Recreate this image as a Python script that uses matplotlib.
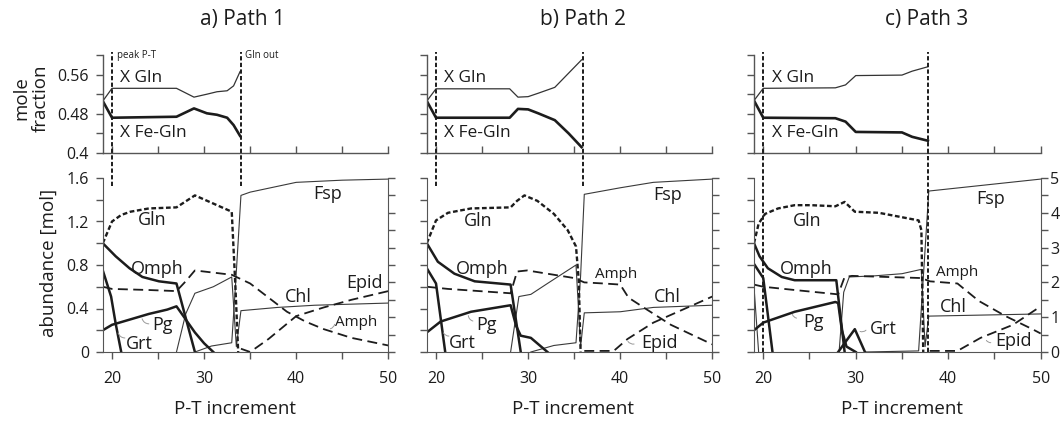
import numpy as np
import matplotlib.pyplot as plt
from matplotlib.ticker import FixedLocator, FuncFormatter

plt.rcParams['font.family'] = ['Open Sans', 'DejaVu Sans']

# ---- data ----
titles = ['a) Path 1', 'b) Path 2', 'c) Path 3']
peak_pt = [20, 20, 20]
gln_out = [34, 36, 37.8]

# Path 1
a_xgln_x = [19, 20, 27, 28.9, 30.3, 31.4, 32.5, 33.2, 33.9]
a_xgln_y = [0.506, 0.532, 0.532, 0.514, 0.520, 0.525, 0.527, 0.537, 0.566]
a_xfe_y = [0.506, 0.472, 0.474, 0.491, 0.481, 0.478, 0.472, 0.457, 0.435]
a_gln_x = [19, 19.5, 20, 21, 22, 24, 27, 29, 33, 33.4, 33.7]
a_gln_y = [1.0, 1.1, 1.2, 1.26, 1.29, 1.32, 1.33, 1.44, 1.29, 0.6, 0]
a_omph_x = [19, 20.4, 21.9, 23.3, 25.1, 27, 29]
a_omph_y = [1.0, 0.88, 0.77, 0.69, 0.65, 0.63, 0]
a_grt_x = [19, 19.9, 20.4, 21]
a_grt_y = [0.75, 0.51, 0.26, 0]
a_pg_x = [19, 20, 22, 24, 26, 27, 28, 29, 30, 31]
a_pg_y = [0.2, 0.25, 0.3, 0.35, 0.39, 0.42, 0.3, 0.18, 0.08, 0]
a_amph_x = [19, 20, 24, 27, 28, 29, 33, 34, 35, 37, 39, 41, 43, 46, 50]
a_amph_y = [0.6, 0.58, 0.57, 0.56, 0.65, 0.75, 0.71, 0.67, 0.63, 0.5, 0.37, 0.28, 0.21, 0.13, 0.06]
a_chl_x = [27, 28, 29, 31, 33, 33.5, 34, 38, 42, 46, 50]
a_chl_y = [0, 0.35, 0.54, 0.6, 0.69, 0.05, 0.38, 0.41, 0.43, 0.44, 0.45]
a_fsp_x = [29, 30.8, 33, 33.4, 34, 35, 40, 45, 50]
a_fsp_y = [0, 0.055, 0.085, 0.6, 1.44, 1.47, 1.56, 1.58, 1.59]
a_epid_x = [34, 35, 37, 40, 43, 46, 50]
a_epid_y = [0.03, 0, 0.12, 0.33, 0.41, 0.48, 0.56]

# Path 2
b_xgln_x = [19, 20, 28, 28.9, 30, 31.1, 32.9, 34.4, 35.8]
b_xgln_y = [0.506, 0.531, 0.531, 0.514, 0.515, 0.522, 0.534, 0.563, 0.59]
b_xfe_y = [0.506, 0.472, 0.472, 0.49, 0.489, 0.481, 0.467, 0.44, 0.412]
b_gln_x = [19, 20, 21.3, 23.8, 28.1, 28.8, 29.6, 31, 32.8, 34.3, 35.2, 35.5, 35.7]
b_gln_y = [1.0, 1.21, 1.28, 1.32, 1.33, 1.39, 1.44, 1.39, 1.27, 1.12, 0.97, 0.66, 0]
b_omph_x = [19, 20.2, 22, 24.2, 28.1, 29.2]
b_omph_y = [1.0, 0.83, 0.72, 0.65, 0.62, 0]
b_grt_x = [19, 20, 21]
b_grt_y = [0.77, 0.63, 0]
b_pg_x = [19, 20.5, 23.8, 28.1, 28.7, 29.2, 30.3, 32.1]
b_pg_y = [0.18, 0.28, 0.37, 0.43, 0.24, 0.15, 0.13, 0]
b_amph_x = [19, 21.3, 28.1, 28.8, 29.9, 35, 36.1, 38.2, 40, 40.9, 42.9, 45.5, 50]
b_amph_y = [0.6, 0.58, 0.54, 0.74, 0.75, 0.68, 0.64, 0.63, 0.62, 0.5, 0.39, 0.25, 0.07]
b_chl_x = [28.1, 29, 30.3, 32.1, 35.2, 35.7, 36.1, 40, 43.6, 50]
b_chl_y = [0, 0.51, 0.53, 0.63, 0.8, 0.05, 0.36, 0.37, 0.41, 0.43]
b_fsp_x = [30.3, 32.8, 35.2, 35.7, 36.1, 40, 43.6, 50]
b_fsp_y = [0, 0.06, 0.085, 0.7, 1.45, 1.51, 1.56, 1.59]
b_epid_x = [36.1, 39.3, 40.8, 43.6, 50]
b_epid_y = [0.01, 0.01, 0.12, 0.27, 0.51]

# Path 3
c_xgln_x = [19, 20, 27.8, 28.9, 30, 35, 36.1, 37.8]
c_xgln_y = [0.507, 0.532, 0.533, 0.539, 0.558, 0.559, 0.567, 0.576]
c_xfe_y = [0.507, 0.472, 0.471, 0.464, 0.443, 0.442, 0.433, 0.425]
c_gln_x = [19, 19.5, 20.2, 21.6, 23.4, 25.2, 27.8, 28.8, 29.9, 32.5, 36.8, 37.1, 37.3]
c_gln_y = [1.0, 1.18, 1.27, 1.32, 1.35, 1.35, 1.34, 1.38, 1.29, 1.28, 1.21, 1.12, 0]
c_omph_x = [19, 19.6, 20.5, 22, 23.4, 27.9, 28.8]
c_omph_y = [1.0, 0.88, 0.77, 0.69, 0.66, 0.66, 0]
c_grt_x = [19, 20, 21, np.nan, 28.1, 29.9, 31]
c_grt_y = [0.81, 0.68, 0, np.nan, 0, 0.21, 0]
c_pg_x = [19, 20, 23.4, 27.8, 28.1, 28.5, 29, 30]
c_pg_y = [0.2, 0.27, 0.37, 0.46, 0.45, 0.2, 0.05, 0]
c_amph_x = [19, 20, 23.4, 28.1, 28.8, 29.6, 37.1, 38, 41, 43.3, 46.2, 49.1, 50]
c_amph_y = [0.62, 0.6, 0.57, 0.53, 0.69, 0.70, 0.68, 0.65, 0.63, 0.47, 0.33, 0.21, 0.17]
c_chl_x = [19, 19.5, np.nan, 28.2, 28.7, 29.3, 32, 35, 37.1, 37.5, 37.9, 50]
c_chl_y = [0.6, 0, np.nan, 0, 0.55, 0.69, 0.70, 0.72, 0.76, 0.05, 0.33, 0.35]
c_fsp_x = [31, 36.8, 37.9, 50]
c_fsp_y = [0, 0.01, 1.48, 1.59]
c_epid_x = [38, 41, 43.5, 47, 50]
c_epid_y = [0.01, 0.01, 0.13, 0.25, 0.42]

panels = [
    dict(xg=a_xgln_x, xgy=a_xgln_y, xfy=a_xfe_y, gln=(a_gln_x, a_gln_y), omph=(a_omph_x, a_omph_y),
         grt=(a_grt_x, a_grt_y), pg=(a_pg_x, a_pg_y), amph=(a_amph_x, a_amph_y),
         chl=(a_chl_x, a_chl_y), fsp=(a_fsp_x, a_fsp_y), epid=(a_epid_x, a_epid_y)),
    dict(xg=b_xgln_x, xgy=b_xgln_y, xfy=b_xfe_y, gln=(b_gln_x, b_gln_y), omph=(b_omph_x, b_omph_y),
         grt=(b_grt_x, b_grt_y), pg=(b_pg_x, b_pg_y), amph=(b_amph_x, b_amph_y),
         chl=(b_chl_x, b_chl_y), fsp=(b_fsp_x, b_fsp_y), epid=(b_epid_x, b_epid_y)),
    dict(xg=c_xgln_x, xgy=c_xgln_y, xfy=c_xfe_y, gln=(c_gln_x, c_gln_y), omph=(c_omph_x, c_omph_y),
         grt=(c_grt_x, c_grt_y), pg=(c_pg_x, c_pg_y), amph=(c_amph_x, c_amph_y),
         chl=(c_chl_x, c_chl_y), fsp=(c_fsp_x, c_fsp_y), epid=(c_epid_x, c_epid_y)),
]

# ---- layout (pixels of a 1064x423 canvas) ----
W, H = 1064, 423
INK = '#1c1c1c'
AX = '#555555'
lefts = [102.8, 426.8, 754]
rights = [388.3, 712.3, 1040.7]

fig = plt.figure(figsize=(W / 100, H / 100), dpi=100)

def add(l, t, r, b):
    return fig.add_axes([l / W, 1 - b / H, (r - l) / W, (b - t) / H])

thick = dict(color=INK, lw=1.8, solid_joinstyle='round')
thin = dict(color='#3a3a3a', lw=0.8)
glns = dict(color=INK, lw=1.7, ls=(0, (2.0, 1.1)))
dash = dict(color=INK, lw=1.3, ls=(0, (5.5, 3)))
vdash = dict(color=INK, lw=1.4, ls=(0, (2.2, 1.2)))
lead = dict(arrowstyle='-', color='#999999', lw=0.7, connectionstyle='arc3,rad=-0.5')

# label positions per panel (data coords)
lab = [
    dict(Gln=(24.4, 1.21), Omph=(24.9, 0.76), Pg=(25.5, 0.25), Grt=(23.0, 0.07), Fsp=(43.4, 1.45),
         Chl=(40.2, 0.51), Epid=(47.4, 0.63)),
    dict(Gln=(24.6, 1.2), Omph=(25.0, 0.76), Pg=(25.5, 0.25), Grt=(22.9, 0.08), Fsp=(45.1, 1.44),
         Chl=(45.1, 0.51), Epid=(44.3, 0.08)),
    dict(Gln=(24.7, 1.2), Omph=(24.7, 0.76), Pg=(25.4, 0.28), Grt=(33.0, 0.21), Fsp=(44.6, 1.41),
         Chl=(40.5, 0.41), Epid=(47.1, 0.10)),
]
amph_lab = [(46.5, 0.27), (39.6, 0.71), (41.0, 0.73)]
leaders = [
    [((20.6, 0.2), (21.7, 0.13)), ((23.2, 0.33), (24.3, 0.26)), ((43.4, 0.21), (44.2, 0.28))],
    [((20.7, 0.2), (21.7, 0.15)), ((23.5, 0.36), (24.3, 0.28)), ((40.7, 0.12), (41.8, 0.08))],
    [((23.1, 0.37), (23.9, 0.31)), ((30.2, 0.2), (31.3, 0.22)), ((44.0, 0.13), (44.9, 0.09))],
]

for i, p in enumerate(panels):
    L, R = lefts[i], rights[i]
    at = add(L, 55, R, 153)
    ab = add(L, 178, R, 352)
    tw = ab.twinx()

    # --- top: mole fraction ---
    at.plot(p['xg'], p['xgy'], color='#333333', lw=0.9)
    at.plot(p['xg'], p['xfy'], color=INK, lw=1.9)
    at.set_xlim(19, 50)
    at.set_ylim(0.4, 0.6)
    for s in ['top', 'right']:
        at.spines[s].set_visible(False)
    for s in ['left', 'bottom']:
        at.spines[s].set_color(AX)
        at.spines[s].set_linewidth(1.0)
    at.yaxis.set_major_locator(FixedLocator([0.4, 0.48, 0.56]))
    at.yaxis.set_minor_locator(FixedLocator([0.44, 0.52, 0.6]))
    at.xaxis.set_major_locator(FixedLocator([20, 25, 30, 35, 40, 45, 50]))
    at.tick_params(axis='y', which='both', direction='out', length=5, width=1, color=AX,
                   labelsize=11.5, pad=5, labelcolor=INK)
    at.tick_params(axis='x', which='both', direction='in', length=5, width=1, color=AX,
                   labelbottom=False)
    at.yaxis.set_major_formatter(FuncFormatter(lambda v, _: '0.4' if abs(v - 0.4) < 1e-6 else '%.2f' % v))
    if i > 0:
        at.set_yticklabels([])
    at.text(20.9, 0.553, 'X Gln', fontsize=12.5, color=INK, va='center', ha='left')
    at.text(20.9, 0.441, 'X Fe-Gln', fontsize=12.5, color=INK, va='center', ha='left')
    if i == 0:
        at.text(20.5, 0.598, 'peak P-T', fontsize=7, color=INK, va='center', ha='left')
        at.text(34.4, 0.598, 'Gln out', fontsize=7, color=INK, va='center', ha='left')

    # --- bottom: abundance ---
    ab.plot(*p['chl'], **thin)
    ab.plot(*p['fsp'], **thin)
    ab.plot(*p['amph'], **dash)
    ab.plot(*p['epid'], **dash)
    ab.plot(*p['gln'], **glns)
    ab.plot(*p['omph'], **thick)
    ab.plot(*p['grt'], **thick)
    ab.plot(*p['pg'], **thick)
    ab.set_xlim(19, 50)
    ab.set_ylim(0, 1.6)
    tw.set_ylim(0, 5)
    for s in ['top', 'right']:
        ab.spines[s].set_visible(False)
    for s in ['top', 'left', 'bottom']:
        tw.spines[s].set_visible(False)
    for s in ['left', 'bottom']:
        ab.spines[s].set_color(AX)
    tw.spines['right'].set_color(AX)
    ab.xaxis.set_major_locator(FixedLocator([20, 30, 40, 50]))
    ab.xaxis.set_minor_locator(FixedLocator([25, 35, 45]))
    ab.yaxis.set_major_locator(FixedLocator([0, 0.4, 0.8, 1.2, 1.6]))
    ab.yaxis.set_minor_locator(FixedLocator([0.2, 0.6, 1.0, 1.4]))
    ab.yaxis.set_major_formatter(FuncFormatter(lambda v, _: '0' if v == 0 else '%.1f' % v))
    ab.tick_params(axis='both', which='both', direction='out', length=5, width=1, color=AX,
                   labelsize=11.5, labelcolor=INK)
    ab.tick_params(axis='x', pad=9)
    ab.tick_params(axis='y', pad=5)
    tw.yaxis.set_major_locator(FixedLocator([0, 1, 2, 3, 4, 5]))
    tw.yaxis.set_minor_locator(FixedLocator([0.5, 1.5, 2.5, 3.5, 4.5]))
    tw.tick_params(axis='y', which='both', direction='out', length=5, width=1, color=AX,
                   labelsize=11.5, pad=2, labelcolor=INK)
    if i > 0:
        ab.set_yticklabels([])
    if i < 2:
        tw.set_yticklabels([])

    # vertical markers
    ybot = 0 if i == 2 else 1.53
    for xv in (peak_pt[i], gln_out[i]):
        at.plot([xv, xv], [0.4, 0.607], clip_on=False, **vdash)
        ab.plot([xv, xv], [ybot, 1.83], clip_on=False, **vdash)

    for name, (lx, ly) in lab[i].items():
        ab.text(lx, ly, name, fontsize=13, color=INK, ha='center', va='center')
    ab.text(amph_lab[i][0], amph_lab[i][1], 'Amph', fontsize=11, color=INK, ha='center', va='center')
    for xy, xyt in leaders[i]:
        ab.annotate('', xy=xy, xytext=xyt, arrowprops=lead)

    fig.text([242, 583, 927][i] / W, 1 - 20 / H, titles[i], fontsize=15, color=INK,
             ha='center', va='center')
    fig.text([235, 573, 902][i] / W, 1 - 409 / H, 'P-T increment', fontsize=13.5, color=INK,
             ha='center', va='center')

fig.text(49 / W, 1 - 263 / H, 'abundance [mol]', rotation=90, fontsize=13.5, color=INK,
         ha='center', va='center')
fig.text(31 / W, 1 - 98 / H, 'mole\nfraction', rotation=90, fontsize=13.5, color=INK,
         ha='center', va='center', linespacing=1.05, multialignment='center')

fig.savefig('out.png', dpi=100)
